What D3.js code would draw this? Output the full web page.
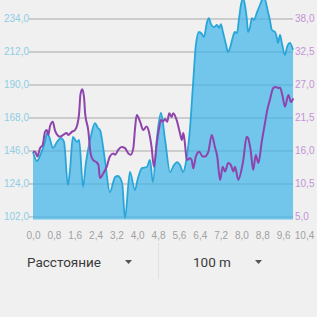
<!DOCTYPE html>
<html lang="ru">

<head>
    <meta charset="UTF-8">
    <title>Высота и скорость</title>
    <script src="https://cdn.jsdelivr.net/npm/d3@7"></script>
    <style>
        html, body { margin: 0; padding: 0; background: #f0f0f0; }
        svg { display: block; font-family: Roboto, sans-serif; }
    </style>
</head>

<body>
    <div id="my_dataviz"></div>

    <script>
        // elevation (left axis), km along the track
        var elevKm = [0.00, 0.15, 0.31, 0.46, 0.54, 0.61, 0.77, 0.92, 1.07, 1.19, 1.34, 1.42, 1.53, 1.69, 1.77, 1.92,
            2.03, 2.19, 2.38, 2.49, 2.57, 2.76, 2.95, 3.15, 3.26, 3.42, 3.53, 3.72, 3.91, 4.03, 4.18, 4.37, 4.49,
            4.60, 4.76, 4.91, 5.07, 5.26, 5.41, 5.53, 5.64, 5.76, 5.87, 6.02, 6.14, 6.25, 6.37, 6.48, 6.56, 6.68,
            6.75, 6.83, 6.95, 7.06, 7.14, 7.21, 7.29, 7.41, 7.48, 7.56, 7.67, 7.75, 7.83, 7.90, 7.98, 8.06, 8.14,
            8.21, 8.25, 8.33, 8.40, 8.48, 8.60, 8.71, 8.86, 9.02, 9.09, 9.17, 9.29, 9.36, 9.40, 9.48, 9.55, 9.67,
            9.75, 9.86, 9.98];
        var elevValues = [145.0, 139.0, 144.3, 151.7, 157.7, 155.7, 147.7, 151.7, 154.3, 151.7, 123.0, 133.0, 155.0, 151.7, 153.0, 121.7,
            137.7, 153.0, 164.3, 161.0, 159.7, 139.7, 118.3, 128.3, 129.0, 124.3, 101.0, 131.7, 119.7, 127.7, 134.3, 135.0, 139.7,
            125.0, 155.0, 171.0, 153.0, 131.7, 136.3, 138.3, 136.3, 131.7, 138.3, 159.7, 189.7, 216.3, 225.0, 223.7, 221.7, 231.7,
            234.3, 230.3, 228.3, 229.7, 227.7, 230.3, 225.0, 216.3, 211.7, 214.3, 221.7, 225.0, 224.3, 233.0, 243.0, 247.7, 242.3,
            233.0, 225.0, 228.3, 234.3, 233.0, 238.3, 243.0, 248.3, 238.3, 233.0, 226.3, 225.0, 221.0, 217.7, 223.0, 217.7, 209.7,
            215.0, 217.7, 213.0];

        // speed (right axis)
        var speedKm = [0.00, 0.08, 0.17, 0.27, 0.37, 0.46, 0.53, 0.59, 0.65, 0.76, 0.84, 0.93, 1.04, 1.16, 1.29, 1.35, 1.49,
            1.61, 1.70, 1.77, 1.82, 1.89, 1.96, 2.00, 2.12, 2.21, 2.31, 2.42, 2.51, 2.57, 2.70, 2.83, 2.95, 3.08, 3.15,
            3.27, 3.40, 3.53, 3.66, 3.75, 3.85, 3.91, 3.98, 4.11, 4.23, 4.36, 4.45, 4.55, 4.64, 4.75, 4.85, 4.91, 4.98,
            5.07, 5.15, 5.23, 5.32, 5.38, 5.51, 5.64, 5.71, 5.77, 5.83, 5.90, 6.02, 6.09, 6.15, 6.25, 6.38, 6.51, 6.60,
            6.73, 6.86, 6.98, 7.07, 7.18, 7.28, 7.37, 7.49, 7.59, 7.69, 7.75, 7.88, 8.01, 8.07, 8.20, 8.26, 8.35, 8.45,
            8.55, 8.65, 8.78, 8.90, 8.99, 9.09, 9.22, 9.32, 9.41, 9.48, 9.58, 9.67, 9.80, 9.90, 9.99];
        var speedValues = [15.8, 15.8, 15.0, 16.4, 16.9, 19.1, 19.4, 18.6, 20.0, 20.8, 19.4, 18.6, 18.3, 18.6, 18.9, 18.6, 19.1,
            19.4, 20.3, 22.2, 25.3, 26.2, 24.8, 22.2, 19.4, 15.5, 14.4, 14.1, 13.6, 11.4, 12.2, 13.3, 15.0, 15.5, 15.3,
            16.1, 16.6, 16.4, 15.5, 15.3, 16.4, 19.4, 21.9, 20.8, 19.4, 20.0, 19.1, 16.6, 13.3, 17.2, 20.0, 21.1, 20.8,
            21.25, 20.8, 22.2, 21.6, 22.2, 21.1, 18.9, 17.75, 18.9, 17.2, 14.4, 14.7, 14.4, 13.0, 15.0, 15.8, 15.0, 15.0,
            15.8, 18.6, 16.6, 15.0, 11.1, 13.3, 12.5, 13.9, 13.6, 12.5, 13.3, 11.1, 13.0, 14.4, 18.3, 18.0, 16.1, 12.75,
            15.25, 13.9, 17.5, 20.5, 22.75, 24.4, 26.4, 26.6, 26.4, 26.5, 25.0, 23.3, 25.25, 24.1, 24.7];

        var xTicks = [0, 0.8, 1.6, 2.4, 3.2, 4.0, 4.8, 5.6, 6.4, 7.2, 8.0, 8.8, 9.6, 10.4];
        var leftTicks = [102, 124, 146, 168, 190, 212, 234];
        var rightTicks = [5, 10.5, 16, 21.5, 27, 32.5, 38];

        var W = 317, H = 317;
        var plotLeft = 33, plotBottom = 219.5, gridLeft = 29, gridRight = 293;

        var svg = d3.select("#my_dataviz")
            .append("svg")
            .attr("width", W)
            .attr("height", H);

        var x = d3.scaleLinear().domain([0, 10.4]).range([plotLeft, 304]);
        var yL = d3.scaleLinear().domain([100, 246.33]).range([plotBottom, 0]);
        var yR = d3.scaleLinear().domain([4.5, 41.08]).range([plotBottom, 0]);

        var fmt = function (d) { return d3.format(".1f")(d).replace(".", ","); };

        // left axis + gridlines
        var gl = svg.append("g")
            .attr("transform", "translate(" + gridLeft + ",0)")
            .call(d3.axisLeft(yL).tickValues(leftTicks).tickSize(-(gridRight - gridLeft)).tickPadding(0).tickFormat(fmt));
        gl.select(".domain").remove();
        gl.selectAll("line").attr("stroke", "#a8a8a8").attr("stroke-width", 1);
        gl.selectAll("text").attr("fill", "#8fcde4").style("font-size", "10px");

        // elevation area
        var area = d3.area()
            .x(function (d, i) { return x(elevKm[i]); })
            .y0(plotBottom)
            .y1(function (d) { return yL(d); })
            .curve(d3.curveMonotoneX);
        svg.append("path")
            .datum(elevValues)
            .attr("d", area)
            .attr("fill", "rgb(60,180,232)")
            .attr("fill-opacity", 0.7);

        var elevLine = d3.line()
            .x(function (d, i) { return x(elevKm[i]); })
            .y(function (d) { return yL(d); })
            .curve(d3.curveMonotoneX);
        svg.append("path")
            .datum(elevValues)
            .attr("d", elevLine)
            .attr("fill", "none")
            .attr("stroke", "#29a6d8")
            .attr("stroke-width", 1.8);

        var speedLine = d3.line()
            .x(function (d, i) { return x(speedKm[i]); })
            .y(function (d) { return yR(d); })
            .curve(d3.curveMonotoneX);
        svg.append("path")
            .datum(speedValues)
            .attr("d", speedLine)
            .attr("fill", "none")
            .attr("stroke", "#8e44ad")
            .attr("stroke-width", 2);

        // right axis
        var gr = svg.append("g")
            .attr("transform", "translate(" + gridRight + ",0)")
            .call(d3.axisRight(yR).tickValues(rightTicks).tickSize(0).tickPadding(2).tickFormat(fmt));
        gr.select(".domain").remove();
        gr.selectAll("text").attr("fill", "#c493d6").style("font-size", "10px");

        // x axis
        var gx = svg.append("g")
            .attr("transform", "translate(0," + plotBottom + ")")
            .call(d3.axisBottom(x).tickValues(xTicks).tickSize(0).tickPadding(12).tickFormat(fmt));
        gx.select(".domain").remove();
        gx.selectAll("text").attr("fill", "#a0a0a0").style("font-size", "10px");

        // bottom selectors
        var bar = svg.append("g").style("font-size", "13.5px").attr("fill", "#3a3a3a");
        bar.append("text").attr("x", 27).attr("y", 267).text("Расстояние");
        bar.append("text").attr("x", 193).attr("y", 267).text("100 m");
        [128.5, 258.5].forEach(function (cx) {
            bar.append("path")
                .attr("d", "M" + (cx - 3.5) + ",260L" + (cx + 3.5) + ",260L" + cx + ",264Z")
                .attr("fill", "#555");
        });
        svg.append("line")
            .attr("x1", 158.5).attr("x2", 158.5)
            .attr("y1", 243).attr("y2", 279)
            .attr("stroke", "#e0e0e0");
    </script>
</body>

</html>
